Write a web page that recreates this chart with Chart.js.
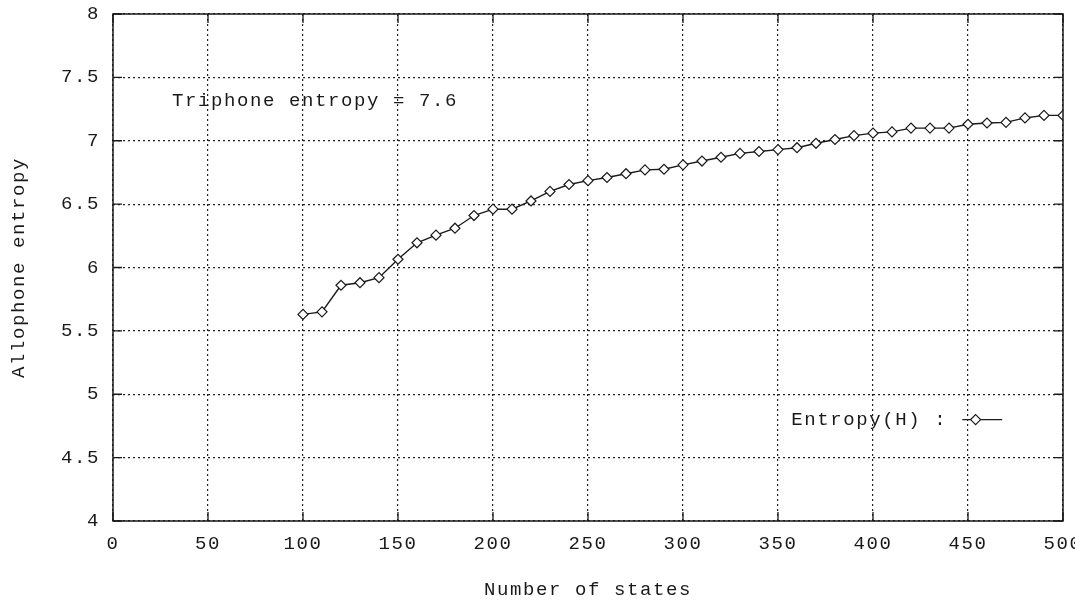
<!DOCTYPE html>
<html>
<head>
<meta charset="utf-8">
<script src="https://cdn.jsdelivr.net/npm/chart.js@4.4.1/dist/chart.umd.min.js"></script>
<style>
  html, body { margin: 0; padding: 0; background: #fff; }
</style>
</head>
<body>
<canvas id="myChart" width="1075" height="601"></canvas>
<script>
// Data
const states = [100, 110, 120, 130, 140, 150, 160, 170, 180, 190,
                200, 210, 220, 230, 240, 250, 260, 270, 280, 290,
                300, 310, 320, 330, 340, 350, 360, 370, 380, 390,
                400, 410, 420, 430, 440, 450, 460, 470, 480, 490, 500];
const entropy = [5.63, 5.65, 5.86, 5.88, 5.92, 6.065, 6.195, 6.255, 6.31, 6.41,
                 6.46, 6.46, 6.525, 6.60, 6.655, 6.685, 6.71, 6.74, 6.77, 6.775,
                 6.81, 6.84, 6.87, 6.90, 6.915, 6.93, 6.945, 6.98, 7.01, 7.04,
                 7.06, 7.07, 7.10, 7.10, 7.10, 7.13, 7.14, 7.145, 7.18, 7.20, 7.20];
const xTicks = [0, 50, 100, 150, 200, 250, 300, 350, 400, 450, 500];
const yTicks = [4, 4.5, 5, 5.5, 6, 6.5, 7, 7.5, 8];
const noteText = 'Triphone entropy = 7.6';
const seriesLabel = 'Entropy(H)';

(() => {
    'use strict'

    const FONT = "'Liberation Mono', 'DejaVu Sans Mono', monospace";
    const INK = '#1a1a1a';
    const SPACING = '1.6px';

    // gnuplot-like frame, mirrored inward ticks, note and key
    const gnuplotLook = {
        id: 'gnuplotLook',
        beforeLayout(chart) { chart.ctx.letterSpacing = SPACING },
        beforeDraw(chart) { chart.ctx.letterSpacing = SPACING },
        afterDraw(chart) {
            const {ctx, chartArea: a, scales: {x, y}} = chart;
            ctx.save();
            ctx.letterSpacing = SPACING;
            ctx.strokeStyle = INK;
            ctx.lineWidth = 1.5;
            ctx.strokeRect(a.left, a.top, a.right - a.left, a.bottom - a.top);

            // ticks
            ctx.lineWidth = 1.3;
            ctx.beginPath();
            xTicks.forEach(v => {
                const px = x.getPixelForValue(v);
                ctx.moveTo(px, a.bottom); ctx.lineTo(px, a.bottom - 9);
                ctx.moveTo(px, a.top); ctx.lineTo(px, a.top + 9);
            });
            yTicks.forEach(v => {
                const py = y.getPixelForValue(v);
                ctx.moveTo(a.left, py); ctx.lineTo(a.left + 9, py);
                ctx.moveTo(a.right, py); ctx.lineTo(a.right - 9, py);
            });
            ctx.stroke();

            ctx.fillStyle = INK;
            ctx.font = '19px ' + FONT;
            ctx.textBaseline = 'middle';

            // note
            ctx.textAlign = 'left';
            ctx.fillText(noteText, x.getPixelForValue(31), y.getPixelForValue(7.31));

            // key
            const ky = y.getPixelForValue(4.8);
            ctx.fillText(seriesLabel + ' :', x.getPixelForValue(357), ky);
            const x0 = x.getPixelForValue(447), x1 = x.getPixelForValue(468);
            ctx.lineWidth = 1.4;
            ctx.beginPath();
            ctx.moveTo(x0, ky); ctx.lineTo(x1, ky);
            ctx.stroke();
            const kx = x.getPixelForValue(454);
            ctx.beginPath();
            ctx.moveTo(kx, ky - 5); ctx.lineTo(kx + 5, ky);
            ctx.lineTo(kx, ky + 5); ctx.lineTo(kx - 5, ky);
            ctx.closePath();
            ctx.fillStyle = '#fff';
            ctx.fill();
            ctx.lineWidth = 1.2;
            ctx.stroke();
            ctx.restore();
        }
    };

    const gridStyle = {
        color: '#222',
        lineWidth: 1.2,
        drawTicks: false
    };

    const ctx = document.getElementById('myChart');
    if(ctx) {
        new Chart(ctx, {
            type: 'line',
            data: {
                datasets: [{
                    label: seriesLabel,
                    data: states.map((s, i) => ({x: s, y: entropy[i]})),
                    borderColor: INK,
                    borderWidth: 1.4,
                    backgroundColor: '#fff',
                    tension: 0,
                    pointStyle: 'rectRot',
                    pointRadius: 5,
                    pointBorderWidth: 1.2,
                    pointBorderColor: INK,
                    pointBackgroundColor: '#fff'
                }]
            },
            options: {
                responsive: false,
                animation: false,
                devicePixelRatio: 1,
                layout: { padding: { top: 14, right: 12, left: 0, bottom: 0 } },
                plugins: {
                    legend: { display: false },
                    tooltip: { enabled: false }
                },
                scales: {
                    x: {
                        type: 'linear',
                        min: 0,
                        max: 500,
                        afterBuildTicks: s => { s.ticks = xTicks.map(v => ({value: v})) },
                        afterFit: s => {
                            s.height = 80;
                            s.paddingLeft = 0;
                            s.paddingRight = 0;
                        },
                        grid: gridStyle,
                        border: { display: false, dash: [2, 3] },
                        ticks: {
                            color: INK,
                            padding: 12,
                            maxRotation: 0,
                            callback: v => String(v),
                            font: { family: FONT, size: 19 }
                        },
                        title: {
                            display: true,
                            text: 'Number of states',
                            color: INK,
                            padding: { top: 0, bottom: 0 },
                            font: { family: FONT, size: 19 }
                        }
                    },
                    y: {
                        type: 'linear',
                        min: 4,
                        max: 8,
                        afterBuildTicks: s => { s.ticks = yTicks.map(v => ({value: v})) },
                        afterFit: s => {
                            s.width = 113;
                            s.paddingTop = 0;
                            s.paddingBottom = 0;
                        },
                        grid: gridStyle,
                        border: { display: false, dash: [2, 3] },
                        ticks: {
                            color: INK,
                            padding: 13,
                            callback: v => String(v),
                            font: { family: FONT, size: 19 }
                        },
                        title: {
                            display: true,
                            text: 'Allophone entropy',
                            color: INK,
                            padding: { top: 8, bottom: 0 },
                            font: { family: FONT, size: 19 }
                        }
                    }
                }
            },
            plugins: [gnuplotLook]
        })
    }
})()
</script>
</body>
</html>
